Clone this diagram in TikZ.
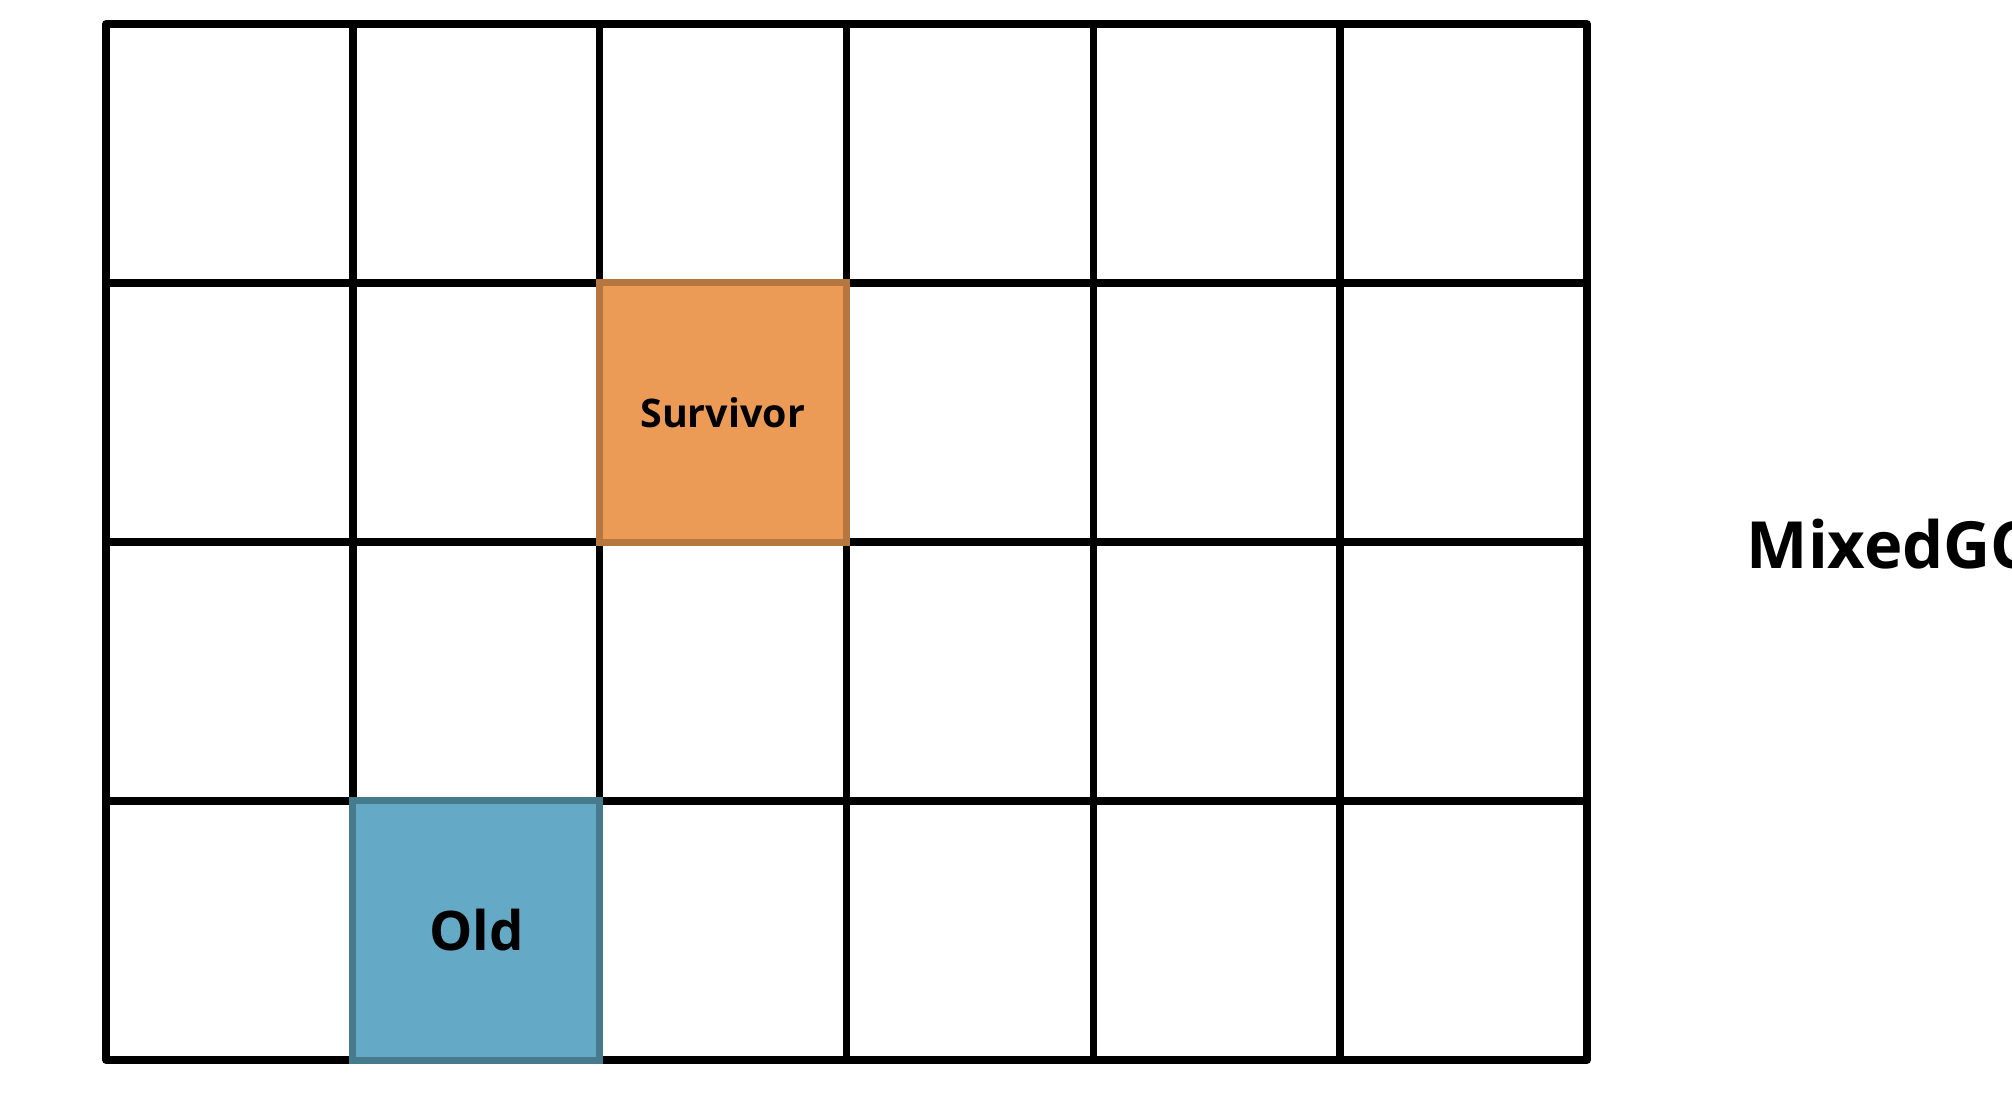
\documentclass[tikz,border=0pt]{standalone}
\usepackage{fontspec}
\setmainfont{Open Sans}
\usepackage{xcolor}
\definecolor{survfill}{HTML}{EB9B55}
\definecolor{survline}{HTML}{B5773F}
\definecolor{oldfill}{HTML}{64A9C5}
\definecolor{oldline}{HTML}{477A8C}

\begin{document}
\begin{tikzpicture}[x=0.01cm,y=-0.01cm,
  region/.style={draw, line width=0.07cm, minimum width=2.468cm, minimum height=2.59cm,
    inner sep=0pt, outer sep=0pt, font=\bfseries}]
  \useasboundingbox (0,0) rectangle (2012,1100);
  % Grid
  \foreach \i in {0,...,6}
    \draw[line width=0.075cm] (106+\i*246.83,24) -- (106+\i*246.83,1060);
  \foreach \j in {0,...,4}
    \draw[line width=0.075cm] (106,24+\j*259) -- (1587,24+\j*259);
  \draw[line width=0.075cm, line join=round] (106,24) rectangle (1587,1060);

  % Regions
  \node[region, fill=survfill, draw=survline, font=\bfseries\fontsize{11.2}{13}\selectfont]
    (survivor) at (722.6,412.5) {Survivor};
  \node[region, fill=oldfill, draw=oldline, font=\bfseries\fontsize{15.5}{18}\selectfont]
    (old) at (476.4,930.5) {Old};

  % Label
  \node[anchor=base west, inner sep=0pt, font=\bfseries\fontsize{18.5}{22}\selectfont]
    (mixedgc) at (1746,568) {MixedGC};
\end{tikzpicture}
\end{document}
